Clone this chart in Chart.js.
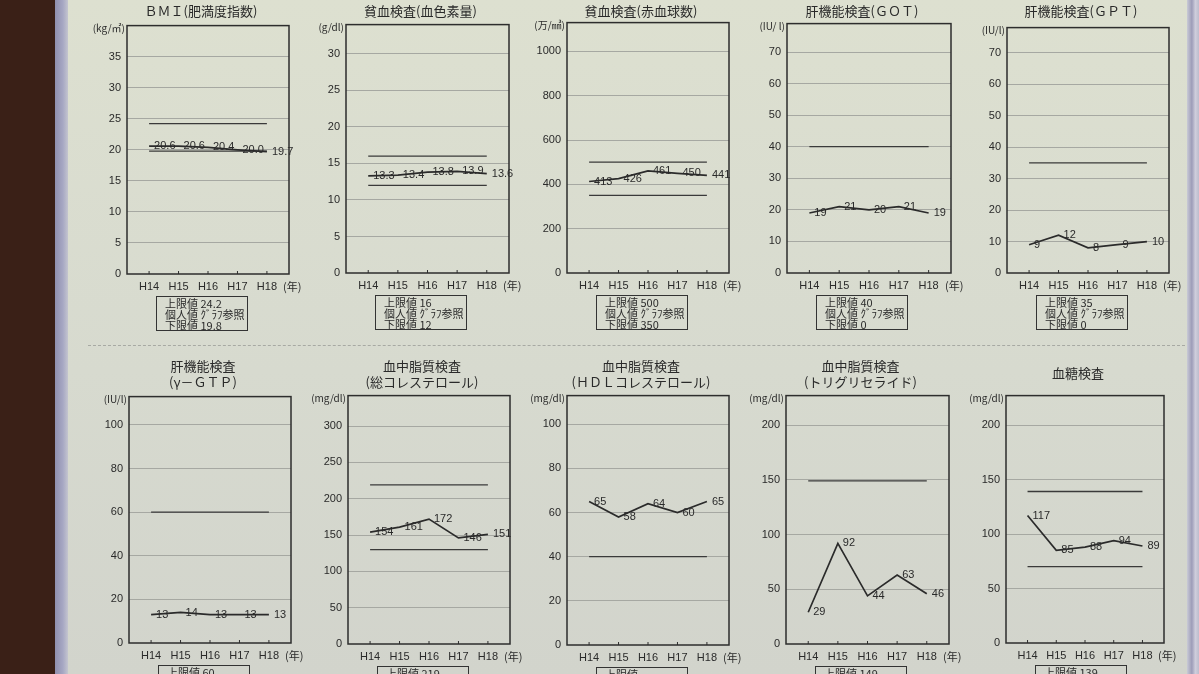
<!DOCTYPE html>
<html>
<head>
<meta charset="utf-8">
<script src="https://cdn.jsdelivr.net/npm/chart.js@4"></script>
<style>
  html, body { margin: 0; padding: 0; }
  body {
    width: 1199px; height: 674px; overflow: hidden; position: relative;
    background: linear-gradient(180deg, #dde0d0 0%, #d7dacf 55%, #d2d4cc 100%);
    font-family: 'Noto Sans CJK JP', sans-serif; color: #2a2a2a;
  }
  #desk { position: absolute; left: 0; top: 0; width: 55px; height: 674px; background: #3a2017; }
  #sleeveL { position: absolute; left: 55px; top: 0; width: 13px; height: 674px;
    background: linear-gradient(90deg, #8f8fae, #a6a7c3 60%, #c4c5cf); }
  #sleeveR { position: absolute; left: 1187px; top: 0; width: 12px; height: 674px;
    background: linear-gradient(90deg, #c9cad6, #9d9cb8 40%, #cfcedc 70%, #bdbccd); }
  #cut { position: absolute; left: 88px; top: 345px; width: 1097px; border-top: 1px dashed #a7a9a3; }
  canvas { position: absolute; }
  .title { position: absolute; font-size: 13px; line-height: 16px; text-align: center; white-space: pre; transform: translateX(-50%); }
  .unit { position: absolute; font-size: 10px; line-height: 12px; transform: translateX(-100%); white-space: nowrap; }
  .nen { position: absolute; font-size: 11px; line-height: 12px; white-space: nowrap; }
  .info { position: absolute; width: 82px; height: 32px; border: 1px solid #333; padding: 1px 0 0 8px;
    font-size: 11px; line-height: 11px; white-space: pre; overflow: hidden; }
</style>
</head>
<body>
<div id="desk"></div>
<div id="sleeveL"></div>
<div id="sleeveR"></div>
<div id="cut"></div>
<script>
const years = ['H14', 'H15', 'H16', 'H17', 'H18'];

const bmiValues = [20.6, 20.6, 20.4, 20.0, 19.7];
const hbValues = [13.3, 13.4, 13.8, 13.9, 13.6];
const rbcValues = [413, 426, 461, 450, 441];
const gotValues = [19, 21, 20, 21, 19];
const gptValues = [9, 12, 8, 9, 10];
const ggtValues = [13, 14, 13, 13, 13];
const tcValues = [154, 161, 172, 146, 151];
const hdlValues = [65, 58, 64, 60, 65];
const tgValues = [29, 92, 44, 63, 46];
const gluValues = [117, 85, 88, 94, 89];

const upperLimits = [24.2, 16, 500, 40, 35, 60, 219, null, 149, 139];
const lowerLimits = [19.8, 12, 350, 0, 0, null, 130, 40, null, 70];

const titles = [
  'ＢＭＩ(肥満度指数)', '貧血検査(血色素量)', '貧血検査(赤血球数)', '肝機能検査(ＧＯＴ)', '肝機能検査(ＧＰＴ)',
  '肝機能検査\n(γ－ＧＴＰ)', '血中脂質検査\n(総コレステロール)', '血中脂質検査\n(ＨＤＬコレステロール)',
  '血中脂質検査\n(トリグリセライド)', '血糖検査'
];
const units = ['(kg/㎡)', '(g/dl)', '(万/㎣)', '(IU/ l)', '(IU/l)', '(IU/l)', '(mg/dl)', '(mg/dl)', '(mg/dl)', '(mg/dl)'];
const yMax = [40, 34, 1130, 79, 78, 113, 342, 113, 227, 227];
const yStep = [5, 5, 200, 10, 10, 20, 50, 20, 50, 50];

const series = [bmiValues, hbValues, rbcValues, gotValues, gptValues, ggtValues, tcValues, hdlValues, tgValues, gluValues];

// plot boxes on the page: left, top, right, bottom
const boxes = [
  [127, 21, 289, 274], [346, 20, 509, 273], [567, 18, 729, 273], [787, 19, 951, 273], [1007, 23, 1169, 273],
  [129, 392, 291, 643], [348, 391, 510, 644], [567, 391, 729, 645], [786, 391, 949, 644], [1006, 391, 1164, 643]
];

const Y_W = 42, PAD_T = 8, PAD_R = 14, X_H = 24;
const tickFont = { family: "'Liberation Sans', Arial, sans-serif", size: 11 };

const markPlugin = {
  id: 'marks',
  afterDraw(chart) {
    const { ctx, chartArea: a } = chart;
    const vals = chart.data.datasets[0].data.map(p => p.y);
    const dec = vals.some(v => !Number.isInteger(v)) ? 1 : 0;
    ctx.save();
    ctx.strokeStyle = '#2d2d2d';
    ctx.lineWidth = 1.5;
    ctx.strokeRect(a.left, a.top, a.right - a.left, a.bottom - a.top);
    // small category marks on the baseline
    const xs = chart.scales.x;
    ctx.lineWidth = 1;
    years.forEach((_, i) => {
      const px = xs.getPixelForValue(i);
      ctx.beginPath();
      ctx.moveTo(px, a.bottom);
      ctx.lineTo(px, a.bottom - 3);
      ctx.stroke();
    });
    // value labels
    ctx.fillStyle = '#2a2a2a';
    ctx.font = "11px 'Liberation Sans', Arial, sans-serif";
    ctx.textBaseline = 'middle';
    chart.getDatasetMeta(0).data.forEach((pt, i) => {
      ctx.fillText(vals[i].toFixed(dec), pt.x + 5, pt.y);
    });
    ctx.restore();
  }
};

function addText(cls, text, left, top) {
  const d = document.createElement('div');
  d.className = cls;
  d.textContent = text;
  d.style.left = left + 'px';
  d.style.top = top + 'px';
  document.body.appendChild(d);
  return d;
}

series.forEach((vals, k) => {
  const [L, T, R, B] = boxes[k];
  const canvas = document.createElement('canvas');
  const w = Y_W + (R - L) + PAD_R;
  const h = PAD_T + (B - T) + X_H;
  canvas.width = w;
  canvas.height = h;
  canvas.style.left = (L - Y_W) + 'px';
  canvas.style.top = (T - PAD_T) + 'px';
  canvas.style.width = w + 'px';
  canvas.style.height = h + 'px';
  document.body.appendChild(canvas);

  const datasets = [{
    data: vals.map((v, i) => ({ x: i, y: v })),
    borderColor: '#2b2b2b', borderWidth: 1.7, pointRadius: 0, tension: 0
  }];
  [upperLimits[k], lowerLimits[k]].forEach(lim => {
    if (lim) {
      datasets.push({
        data: [{ x: 0, y: lim }, { x: years.length - 1, y: lim }],
        borderColor: '#3a3a3a', borderWidth: 1.3, pointRadius: 0
      });
    }
  });

  const step = yStep[k];
  const top = yMax[k];
  new Chart(canvas, {
    type: 'line',
    data: { datasets },
    options: {
      responsive: false,
      animation: false,
      devicePixelRatio: 1,
      layout: { padding: { left: 0, top: PAD_T, right: PAD_R, bottom: 0 } },
      plugins: { legend: { display: false }, tooltip: { enabled: false } },
      scales: {
        x: {
          type: 'linear', min: -0.75, max: years.length - 0.25,
          afterBuildTicks: s => { s.ticks = years.map((_, i) => ({ value: i })); },
          afterFit: s => { s.height = X_H; },
          ticks: { callback: v => years[v], padding: 6, font: tickFont, color: '#2a2a2a', maxRotation: 0, autoSkip: false },
          grid: { display: false, drawTicks: false },
          border: { display: false }
        },
        y: {
          min: 0, max: top,
          afterBuildTicks: s => {
            s.ticks = s.ticks.filter(t =>
              Math.abs(t.value / step - Math.round(t.value / step)) < 1e-6 && t.value < top - step / 2);
          },
          afterFit: s => { s.width = Y_W; },
          ticks: { stepSize: step, padding: 6, font: tickFont, color: '#2a2a2a', callback: v => String(v) },
          grid: { color: c => c.tick.value === 0 ? 'rgba(0,0,0,0)' : '#a6a8a2', lineWidth: 1, drawTicks: false },
          border: { display: false }
        }
      }
    },
    plugins: [markPlugin]
  });

  const twoLine = titles[k].includes('\n');
  const titleTop = k < 5 ? 3 : (twoLine ? 358 : 365);
  addText('title', titles[k], (L + R) / 2 - 7, titleTop);
  addText('unit', units[k], L - 2, T + 1);
  addText('nen', '(年)', R - 6, B + 6);
  const up = upperLimits[k] === null ? '' : ' ' + upperLimits[k];
  const lo = lowerLimits[k] === null ? '' : ' ' + lowerLimits[k];
  addText('info', '上限値' + up + '\n個人値 ｸﾞﾗﾌ参照\n下限値' + lo, L + 29, B + 22);
});
</script>
</body>
</html>
